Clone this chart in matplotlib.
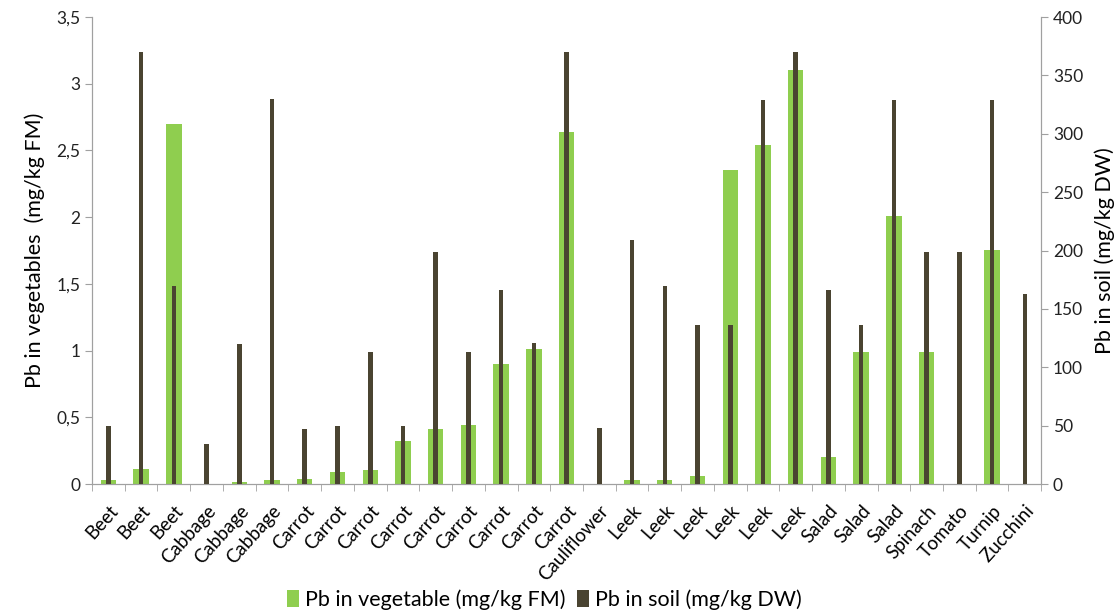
import numpy as np
import matplotlib
matplotlib.use("Agg")
import matplotlib.pyplot as plt
from matplotlib.ticker import FuncFormatter, FixedLocator

plt.rcParams['font.family'] = ['Lato', 'DejaVu Sans']

vegetables = ["Beet", "Beet", "Beet", "Cabbage", "Cabbage", "Cabbage",
              "Carrot", "Carrot", "Carrot", "Carrot", "Carrot", "Carrot",
              "Carrot", "Carrot", "Carrot", "Cauliflower", "Leek", "Leek",
              "Leek", "Leek", "Leek", "Leek", "Salad", "Salad", "Salad",
              "Spinach", "Tomato", "Turnip", "Zucchini"]
pb_vegetable = [0.03, 0.11, 2.70, 0.0, 0.015, 0.03, 0.04, 0.09, 0.105, 0.32,
                0.41, 0.44, 0.90, 1.01, 2.64, 0.0, 0.03, 0.03, 0.06, 2.355,
                2.54, 3.10, 0.205, 0.99, 2.005, 0.99, 0.0, 1.755, 0.0]
pb_soil = [50, 370, 170, 34, 120, 330, 47, 50, 113, 50, 199, 113, 166, 121,
           370, 48, 209, 170, 136, 136, 329, 370, 166, 136, 329, 199, 199,
           329, 163]

green = "#8fce4f"
dark = "#4a4431"
axis_grey = "#a0a0a0"

fig = plt.figure(figsize=(11.18, 6.14), dpi=100)
ax = fig.add_axes([0.0823, 0.2117, 0.849, 0.7606])
ax2 = ax.twinx()

x = np.arange(len(vegetables))
ax.bar(x, pb_vegetable, width=0.47, color=green, label="Pb in vegetable (mg/kg FM)", zorder=2)
ax2.bar(x, pb_soil, width=0.14, color=dark, label="Pb in soil (mg/kg DW)", zorder=3)

ax.set_xlim(-0.5, len(vegetables) - 0.5)
ax.set_ylim(0, 3.5)
ax2.set_ylim(0, 400)
ax.set_yticks(np.arange(0, 3.51, 0.5))
ax2.set_yticks(np.arange(0, 401, 50))
ax.yaxis.set_major_formatter(FuncFormatter(lambda v, p: ("%g" % v).replace(".", ",")))

ax.set_xticks(x)
ax.set_xticklabels(vegetables, rotation=48, ha="right", va="top",
                   rotation_mode="anchor", fontsize=13.5)
ax.tick_params(axis="x", length=0, pad=13)
ax.xaxis.set_minor_locator(FixedLocator(np.arange(-0.5, len(vegetables), 1.0)))
ax.tick_params(axis="x", which="minor", length=5, color=axis_grey)

for a in (ax, ax2):
    a.spines["top"].set_visible(False)
    for s in ("left", "right", "bottom"):
        a.spines[s].set_color(axis_grey)
    a.tick_params(axis="y", length=5, labelsize=12.5, colors=axis_grey, labelcolor="#222222")

ax.set_ylabel("Pb in vegetables  (mg/kg FM)", fontsize=15.5, labelpad=8)
ax2.set_ylabel("Pb in soil (mg/kg DW)", fontsize=15.5, labelpad=8)

h1, l1 = ax.get_legend_handles_labels()
h2, l2 = ax2.get_legend_handles_labels()
fig.legend(h1 + h2, l1 + l2, loc="lower center", bbox_to_anchor=(0.487, -0.025), ncol=2,
           frameon=False, fontsize=15.5, handlelength=0.55, handleheight=0.9,
           handletextpad=0.3, columnspacing=0.5)

fig.savefig("out.png", dpi=100)
